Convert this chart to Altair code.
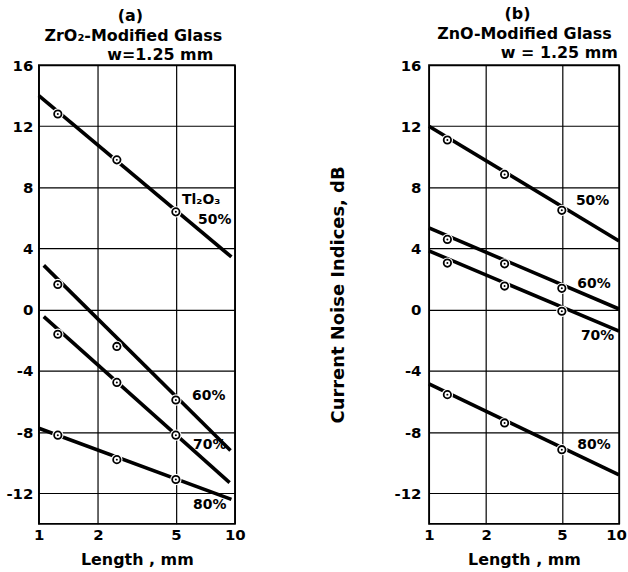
import altair as alt
import pandas as pd

FONT = "DejaVu Sans"

SERIES = ["50%", "60%", "70%", "80%"]
PT_LENGTH = [1.25, 2.5, 5.0]

# ---- Panel (a): ZrO2-modified glass ----
A_POINTS = {
    "50%": [12.8, 9.8, 6.4],
    "60%": [1.65, -2.4, -5.9],
    "70%": [-1.6, -4.75, -8.2],
    "80%": [-8.2, -9.8, -11.1],
}
A_LINE_X = {"50%": [1.0, 9.6], "60%": [1.06, 9.5], "70%": [1.06, 9.4], "80%": [1.0, 9.6]}
A_LINE_Y = {"50%": [14.0, 3.45], "60%": [2.9, -9.2], "70%": [-0.45, -11.3], "80%": [-7.75, -12.4]}
A_LABELS = ["Tl₂O₃", "50%", "60%", "70%", "80%"]
A_LABEL_X = [5.38, 6.49, 6.05, 6.12, 6.12]
A_LABEL_Y = [7.16, 5.86, -5.62, -8.86, -12.75]
A_TITLES = ["(a)", "ZrO₂-Modified Glass", "w=1.25 mm"]

# ---- Panel (b): ZnO-modified glass ----
B_POINTS = {
    "50%": [11.1, 8.85, 6.5],
    "60%": [4.6, 3.0, 1.4],
    "70%": [3.05, 1.55, -0.1],
    "80%": [-5.55, -7.4, -9.15],
}
B_LINE_X = {"50%": [1.0, 10.0], "60%": [1.0, 10.0], "70%": [1.0, 10.0], "80%": [1.0, 10.0]}
B_LINE_Y = {"50%": [12.0, 4.5], "60%": [5.35, 0.05], "70%": [3.85, -1.4], "80%": [-4.85, -10.8]}
B_LABELS = ["50%", "60%", "70%", "80%"]
B_LABEL_X = [5.93, 6.03, 6.3, 6.03]
B_LABEL_Y = [7.14, 1.66, -1.72, -8.86]
B_TITLES = ["(b)", "ZnO-Modified Glass", "w = 1.25 mm"]

X_TICKS = [1, 2, 5, 10]
Y_TICKS = [-12, -8, -4, 0, 4, 8, 12, 16]
Y_TITLE = "Current Noise Indices, dB"
X_TITLE = "Length , mm"


def panel(points, line_x, line_y, labels, lab_x, lab_y, titles, title_pos, width, y_title, last_offset):
    pts = pd.DataFrame(
        [{"s": s, "x": x, "y": y} for s in SERIES for x, y in zip(PT_LENGTH, points[s])]
    )
    lines = pd.DataFrame(
        [{"s": s, "x": x, "y": y} for s in SERIES for x, y in zip(line_x[s], line_y[s])]
    )
    labs = pd.DataFrame({"t": labels, "x": lab_x, "y": lab_y})

    xs = alt.Scale(type="log", domain=[1, 10], nice=False)
    ys = alt.Scale(domain=[-14, 16], nice=False, zero=False)
    x_axis = alt.Axis(
        values=X_TICKS, format="~g", title=X_TITLE, grid=True, tickSize=0,
        labelPadding=4, titlePadding=9, domain=False, labelFlush=False,
        labelOverlap=False, labelFontSize=15, titleFontSize=16,
        labelOffset={"condition": {"test": "datum.value >= 10", "value": last_offset}, "value": 0},
    )
    if y_title:
        y_axis = alt.Axis(values=Y_TICKS, title=y_title, grid=True, tickSize=0,
                          labelPadding=8, titlePadding=47, domain=False,
                          labelExpr="datum.value + ''", labelFontSize=15,
                          titleFontSize=18)
    else:
        y_axis = alt.Axis(values=Y_TICKS, title=None, grid=True, tickSize=0,
                          labelPadding=6, domain=False,
                          labelExpr="datum.value + ''", labelFontSize=15)

    X = alt.X("x:Q", scale=xs, axis=x_axis)
    Y = alt.Y("y:Q", scale=ys, axis=y_axis)

    line_l = alt.Chart(lines).mark_line(color="black", strokeWidth=3.6, strokeCap="butt").encode(
        x=X, y=Y, detail="s:N"
    )
    halo = alt.Chart(pts).mark_point(shape="circle", filled=True, color="white", size=130, opacity=1).encode(
        x=alt.X("x:Q", scale=xs), y=alt.Y("y:Q", scale=ys)
    )
    ring = alt.Chart(pts).mark_point(shape="circle", filled=False, color="black", size=55,
                                     strokeWidth=1.8, opacity=1).encode(
        x=alt.X("x:Q", scale=xs), y=alt.Y("y:Q", scale=ys)
    )
    dot = alt.Chart(pts).mark_point(shape="circle", filled=True, color="black", size=4, opacity=1).encode(
        x=alt.X("x:Q", scale=xs), y=alt.Y("y:Q", scale=ys)
    )
    txt = alt.Chart(labs).mark_text(align="left", baseline="middle", fontSize=14, font=FONT,
                                    fontWeight="bold", color="black").encode(
        x=alt.X("x:Q", scale=xs), y=alt.Y("y:Q", scale=ys), text="t:N"
    )
    layers = [line_l, halo, ring, dot, txt]
    for t, (px, py) in zip(titles, title_pos):
        layers.append(
            alt.Chart(pd.DataFrame({"t": [t]})).mark_text(
                align="center", baseline="middle", fontSize=16, font=FONT,
                fontWeight="bold", color="black"
            ).encode(text="t:N", x=alt.value(px), y=alt.value(py))
        )
    return alt.layer(*layers).properties(width=width, height=461)


pa = panel(A_POINTS, A_LINE_X, A_LINE_Y, A_LABELS, A_LABEL_X, A_LABEL_Y,
           A_TITLES, [(92, -49), (95, -29), (122, -10)], 197, None, 0)
pb = panel(B_POINTS, B_LINE_X, B_LINE_Y, B_LABELS, B_LABEL_X, B_LABEL_Y,
           B_TITLES, [(89, -51), (96, -31), (131, -12)], 191, Y_TITLE, -3)

chart = alt.hconcat(pa, pb, spacing=82).properties(
    padding={"left": 5, "top": 4, "right": 0, "bottom": 0},
    background="white",
).configure_view(stroke="black", strokeWidth=1.6).configure_axis(
    gridColor="black", gridWidth=1.2, gridOpacity=1,
    labelColor="black", titleColor="black",
    labelFont=FONT, titleFont=FONT,
    labelFontWeight="bold", titleFontWeight="bold",
)

chart.save("out.html", embed_options={"renderer": "svg", "actions": False})
